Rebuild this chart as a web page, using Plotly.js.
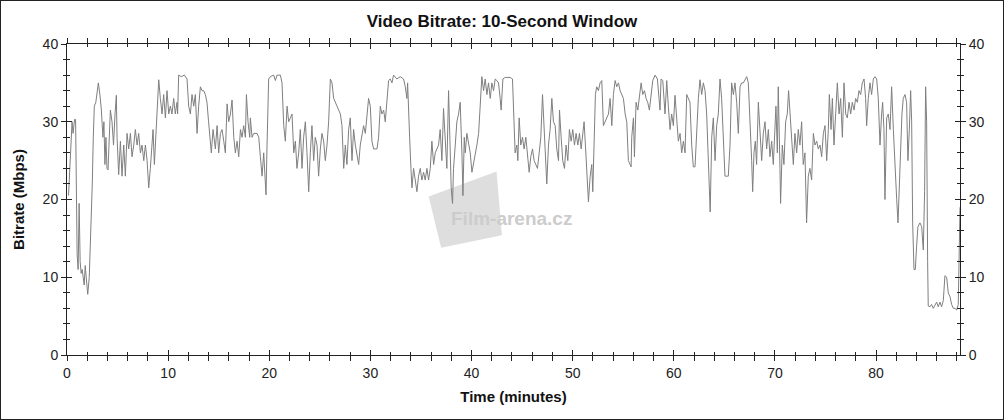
<!DOCTYPE html>
<html>
<head>
<meta charset="utf-8">
<script src="https://cdn.plot.ly/plotly-3.0.1.min.js"></script>
<style>
html,body{margin:0;padding:0;background:#fff;}
#frame{position:absolute;left:0;top:0;width:1004px;height:420px;box-sizing:border-box;border:1px solid #222;background:#fff;}
#chart{width:1002px;height:418px;}
</style>
</head>
<body>
<div id="frame"><div id="chart"></div></div>
<script>
// Time (minutes)
const timeMin = [
0.15,0.3,0.4,0.5,0.6,0.75,0.85,0.9,1.0,1.1,1.2,1.3,1.4,1.5,1.6,1.7,1.8,1.9,2.05,2.2,2.35,2.5,2.6,2.7,2.85,3.0,3.1,3.25,3.4,3.55,3.65,3.75,3.85,3.95,4.06,4.15,4.29,4.45,4.6,4.75,4.88,4.95,
5.11,5.28,5.44,5.61,5.77,5.94,6.1,6.27,6.43,6.6,6.76,6.93,7.09,7.26,7.42,7.59,7.75,7.92,8.08,8.24,8.41,8.51,8.64,8.84,9.07,9.23,9.4,9.56,9.73,9.89,
10.06,10.22,10.38,10.55,10.71,10.88,10.94,11.04,11.3,11.6,11.87,12.03,12.2,12.36,12.53,12.69,12.86,13.02,13.19,13.35,13.51,13.68,13.84,14.0,14.17,14.27,14.44,
14.51,14.67,14.84,15.0,15.17,15.33,15.5,15.66,15.83,15.99,16.16,16.32,16.49,16.65,16.82,16.98,17.15,17.31,17.47,17.64,17.74,17.9,18.07,18.13,18.3,18.46,18.79,18.96,19.12,19.29,19.45,19.62,19.68,19.78,19.94,
20.11,20.44,20.6,20.77,21.1,21.26,21.43,21.59,21.76,21.92,22.09,22.25,22.42,22.58,22.74,22.91,23.07,23.24,23.4,23.57,23.73,23.9,24.06,24.22,24.39,24.55,24.72,24.88,25.05,25.21,25.38,25.54,25.71,25.87,
26.04,26.2,26.37,26.53,26.7,26.86,27.03,27.19,27.36,27.52,27.68,27.85,28.01,28.18,28.34,28.51,28.67,28.84,29.0,29.17,29.33,29.5,29.66,29.82,29.99,
30.15,30.32,30.48,30.65,30.81,30.98,31.14,31.31,31.47,31.64,31.8,31.96,32.13,32.29,32.62,32.95,33.28,33.45,33.61,33.68,33.78,33.88,34.01,34.11,34.27,34.44,34.6,34.76,34.93,
35.09,35.26,35.42,35.59,35.75,35.92,36.08,36.25,36.41,36.58,36.74,36.9,37.07,37.23,37.4,37.56,37.73,37.89,37.99,38.12,38.22,38.39,38.55,38.72,38.88,39.05,39.15,39.28,39.38,39.54,39.71,39.87,
40.04,40.2,40.37,40.53,40.7,40.86,41.02,41.19,41.35,41.52,41.68,41.85,42.01,42.18,42.34,42.5,42.67,42.83,42.93,43.1,43.33,43.82,44.05,44.2,44.31,44.48,44.58,44.71,44.87,
45.04,45.2,45.37,45.53,45.7,45.86,46.03,46.19,46.36,46.52,46.69,46.85,47.02,47.18,47.35,47.44,47.61,47.77,47.94,48.1,48.27,48.43,48.6,48.7,48.86,49.02,49.19,49.35,49.52,49.68,49.85,
50.01,50.18,50.34,50.51,50.67,50.84,51.0,51.13,51.26,51.4,51.56,51.73,51.89,51.99,52.12,52.25,52.38,52.55,52.71,52.88,53.04,53.21,53.37,53.54,53.7,53.87,54.03,54.2,54.36,54.53,54.69,54.86,
55.02,55.19,55.35,55.51,55.78,55.84,56.01,56.11,56.27,56.44,56.6,56.77,56.93,57.1,57.26,57.42,57.59,57.75,57.92,58.15,58.38,58.54,58.64,58.74,58.91,59.13,59.3,59.46,59.63,59.79,59.96,
60.12,60.29,60.45,60.62,60.78,60.95,61.11,61.28,61.44,61.6,61.77,61.93,62.1,62.26,62.43,62.59,62.76,62.92,63.09,63.25,63.42,63.6,63.75,63.91,64.08,64.24,64.4,64.57,64.73,64.9,
65.06,65.23,65.39,65.56,65.72,65.89,66.05,66.22,66.38,66.55,66.71,66.88,67.04,67.21,67.37,67.53,67.7,67.8,67.93,68.06,68.19,68.36,68.52,68.69,68.85,69.02,69.18,69.35,69.51,69.68,69.84,
70.0,70.1,70.24,70.33,70.5,70.56,70.73,70.89,71.06,71.22,71.35,71.49,71.65,71.82,71.98,72.15,72.31,72.47,72.64,72.8,72.97,73.13,73.3,73.46,73.63,73.8,73.96,74.13,74.29,74.46,74.62,74.79,74.95,
75.12,75.28,75.38,75.55,75.68,75.84,76.01,76.17,76.34,76.5,76.67,76.83,77.0,77.16,77.33,77.49,77.65,77.82,77.98,78.15,78.31,78.48,78.64,78.81,78.97,79.07,79.23,79.4,79.56,79.73,79.89,
80.06,80.22,80.39,80.55,80.65,80.78,80.88,81.05,81.21,81.38,81.54,81.71,81.87,82.04,82.17,82.3,82.43,82.56,82.69,82.86,83.02,83.15,83.29,83.42,83.52,83.62,83.75,83.88,84.01,84.14,84.34,84.51,84.67,84.8,84.9,
85.0,85.1,85.16,85.33,85.49,85.66,85.82,85.99,86.15,86.32,86.48,86.65,86.81,86.98,87.14,87.31,87.47,87.64,87.8,87.97,88.13,88.22,88.3
];
// Bitrate (Mbps)
const bitrateMbps = [
20.5,25,27,30,28.5,30.3,30.3,22,13,11,19.5,12,10.5,11,10,9,11.5,10,7.8,10,15,22,28,32,32.5,34.5,35,33.5,31.5,28,30,24.5,28,24,23.8,27,31.5,30,27,31,33.4,28,
23.2,27.5,23,27,23,28.5,26.5,28.5,25.5,27,29,27,28.5,26,27,25,27,25,21.5,24,28,29,24.5,30,35.4,33,31,33.5,30.5,34,
31,32,31,33,31,32.5,31,36,35.8,36,35.5,32,31,33.5,32,33.5,28.5,32,34.5,34,34,33.5,32.5,30,27.5,26,29,
28,26.5,29.5,26,28.5,29,27.5,26,32.3,30,31,32.8,28,26,27.5,25.5,29,28,29.5,28,33.5,30,28,30.5,28,28.5,28.5,28,25.5,23,26,22,20.6,27,35.5,
35.8,36,35.3,36,36,35,29.5,27.5,32,30,30.5,31,26,27.5,24,26,29,24,28,30,26,21,26,29.5,25,28,27,23,26.5,28.5,27.5,25,27,30,
35.5,35,33,32.5,32,31.5,31,29.5,24,27,24.5,29,30.5,25,29,27,25.5,24.5,27,28.5,29.5,28.5,31,33,32,
27.5,26.5,26.5,26.5,28,32,31,31.5,30,33.5,35.3,35.5,35,36,35.5,35.8,35.5,34.5,33,35,30,28,24,21.5,24,22.5,21,23,24,
22.5,23.5,22.5,24,22.5,24,27.5,24.5,26,26.5,27,29,25,31.7,27,24,34,27,21.5,19.5,24,27,30,31,32.5,26,20.5,28,26,28.5,27,26,
23.5,24.5,26,27,28.5,33,35.8,34,35.5,33.5,35,33,35,34,35.5,35.3,35,33,31.5,35.5,35.7,35.7,35.5,30,26,27,25,30.5,27,
28,26.5,28,25.5,23.5,25.5,26.5,25,24.5,24,26,28,33.5,29,24,22,27,29,33,30,29.5,26.5,25,31.5,28,25,24,27,25,29,27.5,
29,27,28.5,27,28.5,26.5,28.5,30,27,24,19.7,23,24.5,21,28,33.5,34.5,34,35,35.3,29.5,30,30.5,31,33,29.5,33.5,35.3,34.5,35,34,33.5,
33,31,30,25,24.2,28,30.5,25.5,32.5,31.5,33.5,35,33.5,34,33,32.5,31.5,33.5,35.3,36,35.5,33,31.5,35.5,35.3,31,35.3,32,29,31,29.5,
33.4,30,27.5,28.5,26,27.5,26,33.5,33,32.5,27,24.2,24.2,29,33,35.4,33.5,35,34,31,25,18.4,28,30.5,25,29.5,31,35.5,33,26.5,
23,23,23,27,35,33.5,35,32.5,28.5,34.5,35,35,35.5,35.8,35,31,25,21,26,27.5,24.5,32.5,29,25,28.5,30,26.5,29,25.5,27.5,24.5,
30,32,26,34.5,24,19.5,27,24.5,30,31,34,31,27.5,24.5,28.5,26,29,27,30,24.5,26,17,23,24,22.5,28.5,27,27.5,26.5,27,25.5,28.5,29.5,
25,29,33.5,29,33,27,31,35,31,33,28,35,31,30.5,32.5,31,32.5,31.5,33,32.5,34,33.5,35,35.5,33,29.5,33,35,33.5,35.5,35.8,
35.5,33,27,31,32.5,29,20,30.5,31,29,34.5,29,24,20,17,22,25.5,31,33,33.5,32.5,25,29,34,30,17,11,11,14,16.5,17,16.5,13.5,21,34.5,
30,12,6.3,6.2,6.5,6.0,6.5,6.8,6.2,6.8,6.2,7,10.2,10,8,7.5,6.5,6,6,5.8,6.5,12,19
];
const titleText = "Video Bitrate: 10-Second Window";
const xTitle = "Time (minutes)";
const yTitle = "Bitrate (Mbps)";
const watermark = "Film-arena.cz";

const FONT = "Liberation Sans, Arial, Helvetica, sans-serif";
const AX = "#222";
const xr = [0, 88.3], yr = [0, 40];

const traces = [
  {x: timeMin, y: bitrateMbps, type: "scatter", mode: "lines",
   line: {color: "#7f7f7f", width: 1}, hoverinfo: "skip", xaxis: "x", yaxis: "y"},
  {x: timeMin, y: bitrateMbps, type: "scatter", mode: "lines",
   line: {color: "rgba(0,0,0,0)", width: 0}, hoverinfo: "skip", xaxis: "x2", yaxis: "y2"},
  {x: timeMin, y: bitrateMbps, type: "scatter", mode: "lines",
   line: {color: "rgba(0,0,0,0)", width: 0}, hoverinfo: "skip", xaxis: "x", yaxis: "y3"}
];

const baseX = {range: xr, showgrid: false, zeroline: false, dtick: 10, tick0: 0,
  linecolor: AX, linewidth: 1, tickcolor: AX, tickwidth: 1, fixedrange: true};
const baseY = {range: yr, showgrid: false, zeroline: false, dtick: 10, tick0: 0,
  linecolor: AX, linewidth: 1, tickcolor: AX, tickwidth: 1, fixedrange: true};

const layout = {
  width: 1002, height: 418,
  margin: {l: 66, r: 43, t: 43, b: 64},
  paper_bgcolor: "#fff", plot_bgcolor: "#fff",
  showlegend: false,
  font: {family: FONT, size: 14, color: "#222"},
  title: {text: "<b>" + titleText + "</b>", x: 0.5, xanchor: "center", y: 0.953, yanchor: "middle",
          font: {family: FONT, size: 17, color: "#111"}},
  xaxis: Object.assign({}, baseX, {
    ticks: "outside", ticklen: 5, mirror: "allticks", showline: true,
    minor: {dtick: 2, ticks: "outside", ticklen: 3, tickcolor: AX},
    tickfont: {family: FONT, size: 14, color: "#222"},
    title: {text: "<b>" + xTitle + "</b>", standoff: 11, font: {family: FONT, size: 15, color: "#111"}}
  }),
  xaxis2: Object.assign({}, baseX, {
    overlaying: "x", side: "bottom", anchor: "y", ticks: "inside", ticklen: 5, mirror: "allticks",
    showline: false, showticklabels: false,
    minor: {dtick: 2, ticks: "inside", ticklen: 3, tickcolor: AX}
  }),
  yaxis: Object.assign({}, baseY, {
    ticks: "outside", ticklen: 5, mirror: "allticks", showline: true,
    minor: {dtick: 2, ticks: "outside", ticklen: 3, tickcolor: AX},
    tickfont: {family: FONT, size: 14, color: "#222"},
    title: {text: "<b>" + yTitle + "</b>", standoff: 14, font: {family: FONT, size: 15, color: "#111"}}
  }),
  yaxis2: Object.assign({}, baseY, {
    overlaying: "y", side: "left", anchor: "x", ticks: "inside", ticklen: 5, mirror: "allticks",
    showline: false, showticklabels: false,
    minor: {dtick: 2, ticks: "inside", ticklen: 3, tickcolor: AX}
  }),
  yaxis3: Object.assign({}, baseY, {
    overlaying: "y", side: "right", anchor: "x", ticks: "outside", ticklen: 5,
    showline: false, showticklabels: true,
    tickfont: {family: FONT, size: 14, color: "#222"}
  }),
  shapes: [
    {type: "path", xref: "paper", yref: "paper", layer: "below",
     path: "M 0.405,0.51 L 0.481,0.59 L 0.487,0.385 L 0.419,0.345 Z",
     fillcolor: "#dedede", line: {width: 0}}
  ],
  annotations: [
    {text: "<b>" + watermark + "</b>", xref: "paper", yref: "paper", x: 0.498, y: 0.44,
     xanchor: "center", yanchor: "middle", showarrow: false,
     font: {family: FONT, size: 19, color: "#cccccc"}}
  ]
};

Plotly.newPlot("chart", traces, layout, {staticPlot: true, displayModeBar: false});
</script>
</body>
</html>
